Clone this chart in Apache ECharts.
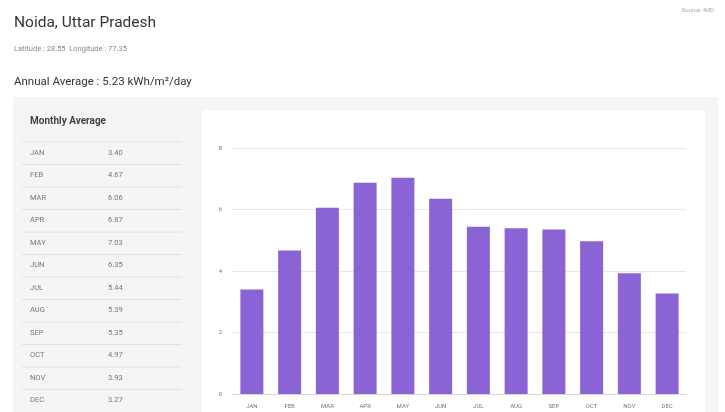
<!DOCTYPE html>
<html>
<head>
<meta charset="utf-8">
<script src="https://cdn.jsdelivr.net/npm/echarts@6/dist/echarts.min.js"></script>
<style>
html,body{margin:0;padding:0;background:#fff;}
#c{width:725px;height:412px;}
</style>
</head>
<body>
<div id="c"></div>
<script>
var months = ['JAN','FEB','MAR','APR','MAY','JUN','JUL','AUG','SEP','OCT','NOV','DEC'];
var values = [3.40, 4.67, 6.06, 6.87, 7.03, 6.35, 5.44, 5.39, 5.35, 4.97, 3.93, 3.27];
var tableValues = ['3.40','4.67','6.06','6.87','7.03','6.35','5.44','5.39','5.35','4.97','3.93','3.27'];
var yTicks = [0, 2, 4, 6, 8];
var titleText = 'Noida, Uttar Pradesh';
var coordText = 'Latitude : 28.55  Longitude : 77.35';
var annualText = 'Annual Average : 5.23 kWh/m\u00B2/day';
var sourceText = 'Source: IMD';
var tableTitle = 'Monthly Average';

var chart = echarts.init(document.getElementById('c'));
var FONT = 'Roboto, "Noto Sans", sans-serif';

var graphics = [
  {type:'rect', shape:{x:13,y:97,width:705,height:320}, style:{fill:'#f5f5f5'}, z:-10, silent:true},
  {type:'rect', shape:{x:202,y:110,width:503,height:310}, style:{fill:'#ffffff'}, z:-9, silent:true},
  {type:'text', left:30, top:116, style:{text:tableTitle, fill:'#444', font:'bold 10px ' + FONT}},
  {type:'line', shape:{x1:22,y1:142,x2:182,y2:142}, style:{stroke:'#e2e2e2', lineWidth:1}}
];
months.forEach(function(m, i){
  var cy = 153 + i * 22.5;
  graphics.push({type:'text', x:30, y:cy, style:{text:m, fill:'#777', font:'7.5px ' + FONT, textVerticalAlign:'middle'}});
  graphics.push({type:'text', x:108, y:cy, style:{text:tableValues[i], fill:'#777', font:'7.5px ' + FONT, textVerticalAlign:'middle'}});
  if (i < months.length - 1) {
    graphics.push({type:'line', shape:{x1:22,y1:cy+11.5,x2:182,y2:cy+11.5}, style:{stroke:'#e2e2e2', lineWidth:1}});
  }
});

chart.setOption({
  backgroundColor:'#ffffff',
  animation:false,
  textStyle:{fontFamily:FONT},
  title:[
    {text:titleText, left:14, top:15, padding:0, textStyle:{fontSize:15.5, fontWeight:'normal', color:'#333', fontFamily:FONT}},
    {text:coordText, left:14, top:45, padding:0, textStyle:{fontSize:7.5, fontWeight:'normal', color:'#888', fontFamily:FONT}},
    {text:annualText, left:14, top:76, padding:0, textStyle:{fontSize:11.5, fontWeight:'normal', color:'#333', fontFamily:FONT}},
    {text:sourceText, right:11, top:7, padding:0, textStyle:{fontSize:6, fontWeight:'normal', color:'#aaa', fontFamily:FONT}}
  ],
  graphic:graphics,
  grid:{left:233, right:39, top:148, bottom:18, containLabel:false},
  xAxis:{
    type:'category',
    data:months,
    axisLine:{show:true, lineStyle:{color:'#d6d6d6'}},
    axisTick:{show:false},
    axisLabel:{color:'#777', fontSize:6, margin:9}
  },
  yAxis:{
    type:'value',
    min:yTicks[0], max:yTicks[yTicks.length-1], interval:2,
    axisLine:{show:false},
    axisTick:{show:false},
    axisLabel:{color:'#777', fontSize:6, margin:11},
    splitLine:{lineStyle:{color:'#e6e6e6'}}
  },
  series:[{
    type:'bar',
    data:values,
    barWidth:23,
    itemStyle:{color:'#8a63d4'}
  }]
});
</script>
</body>
</html>
